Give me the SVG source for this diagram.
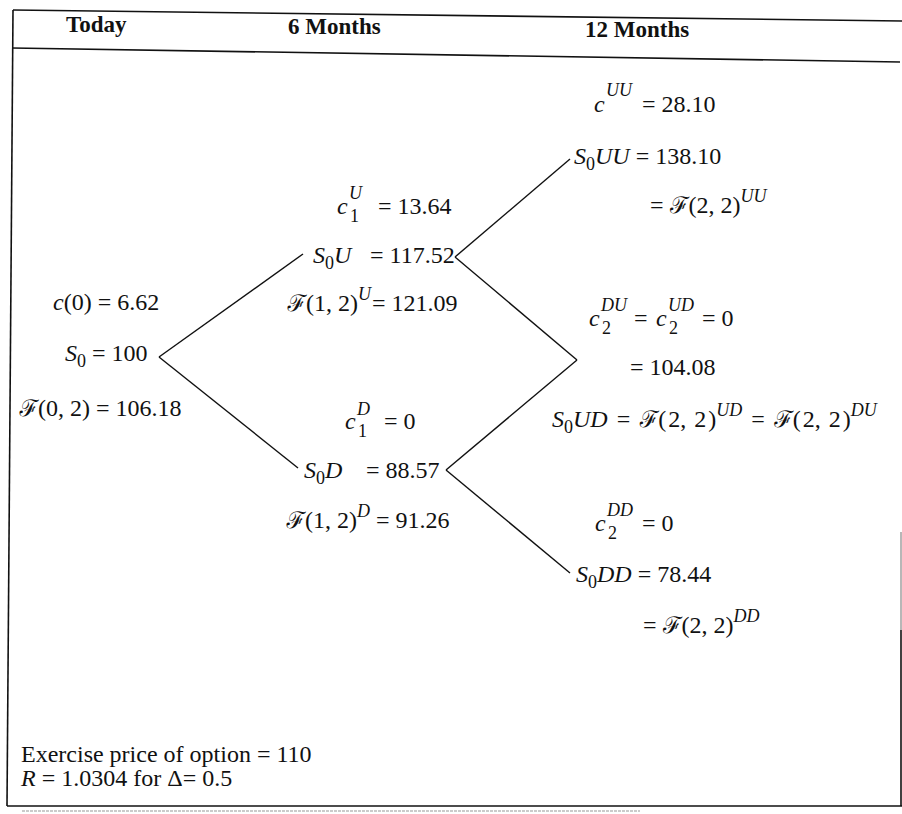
<svg xmlns="http://www.w3.org/2000/svg" width="902" height="814" viewBox="0 0 902 814">
<style>
.t{font-family:"Liberation Serif","DejaVu Serif",serif;font-size:24px;fill:#111}
.i{font-style:italic}
.s{font-size:18px}
.h{font-family:"Liberation Serif","DejaVu Serif",serif;font-size:23px;font-weight:bold;fill:#111}
.f{font-family:"DejaVu Serif","Noto Sans",serif;font-style:italic;font-size:23px}
.ln{stroke:#111;stroke-width:1.4;fill:none}
.fr{stroke:#111;stroke-width:1.6;fill:none}
</style>
<rect width="902" height="814" fill="#fff"/>
<g id="frame">
<line class="fr" x1="13" y1="10" x2="902" y2="21"/>
<line class="fr" x1="12" y1="48" x2="900" y2="62"/>
<line class="fr" x1="13" y1="10" x2="7" y2="806"/>
<line class="fr" x1="7" y1="806" x2="902" y2="806"/>
<line x1="901" y1="532" x2="901" y2="630" stroke="#999" stroke-width="1.4"/>
<line class="fr" x1="901" y1="630" x2="901" y2="806"/>
<line x1="22" y1="811" x2="640" y2="811" stroke="#bbb" stroke-width="1.5" stroke-dasharray="3 1"/>
</g>
<g id="header">
<text class="h" x="66" y="32">Today</text>
<text class="h" x="288" y="34">6 Months</text>
<text class="h" x="585" y="37">12 Months</text>
</g>
<g id="connectors">
<line class="ln" x1="159" y1="357" x2="303" y2="254"/>
<line class="ln" x1="159" y1="357" x2="298" y2="468"/>
<line class="ln" x1="455" y1="257" x2="570" y2="159"/>
<line class="ln" x1="455" y1="257" x2="577" y2="360"/>
<line class="ln" x1="577" y1="360" x2="446" y2="470"/>
<line class="ln" x1="446" y1="470" x2="570" y2="573"/>
</g>
<g id="node-today">
<text class="t" x="53" y="310"><tspan class="i">c</tspan>(0) = 6.62</text>
<text class="t" x="65" y="361"><tspan class="i">S</tspan><tspan class="s" dy="6">0</tspan><tspan dy="-6"> = 100</tspan></text>
<text class="t" x="19" y="416"><tspan class="f">ℱ</tspan>(0, 2) = 106.18</text>
</g>
<g id="node-6m-up">
<text class="t i" x="337" y="214">c</text>
<text class="t i s" x="349" y="199">U</text>
<text class="t s" x="350" y="222">1</text>
<text class="t" x="378" y="214">= 13.64</text>
<text class="t" x="313" y="263"><tspan class="i">S</tspan><tspan class="s" dy="6">0</tspan><tspan class="i" dy="-6">U</tspan></text>
<text class="t" x="370" y="263">= 117.52</text>
<text class="t" x="287" y="311"><tspan class="f">ℱ</tspan>(1, 2)<tspan class="i s" dy="-11">U</tspan><tspan dy="11" dx="1">= 121.09</tspan></text>
</g>
<g id="node-6m-down">
<text class="t i" x="345" y="429">c</text>
<text class="t i s" x="357" y="415">D</text>
<text class="t s" x="358" y="437">1</text>
<text class="t" x="384" y="429">= 0</text>
<text class="t" x="304" y="478"><tspan class="i">S</tspan><tspan class="s" dy="6">0</tspan><tspan class="i" dy="-6">D</tspan></text>
<text class="t" x="366" y="478">= 88.57</text>
<text class="t" x="286" y="528"><tspan class="f">ℱ</tspan>(1, 2)<tspan class="i s" dy="-11">D</tspan><tspan dy="11"> = 91.26</tspan></text>
</g>
<g id="node-12m-uu">
<text class="t i" x="594" y="112">c</text>
<text class="t i s" x="606" y="96">UU</text>
<text class="t" x="642" y="112">= 28.10</text>
<text class="t" x="574" y="164"><tspan class="i">S</tspan><tspan class="s" dy="6">0</tspan><tspan class="i" dy="-6">UU</tspan> = 138.10</text>
<text class="t" x="650" y="213">= <tspan class="f">ℱ</tspan>(2, 2)<tspan class="i s" dy="-11">UU</tspan></text>
</g>
<g id="node-12m-ud">
<text class="t i" x="589" y="326">c</text>
<text class="t i s" x="601" y="311">DU</text>
<text class="t s" x="602" y="334">2</text>
<text class="t" x="634" y="326">=</text>
<text class="t i" x="656" y="326">c</text>
<text class="t i s" x="668" y="311">UD</text>
<text class="t s" x="669" y="334">2</text>
<text class="t" x="702" y="326">= 0</text>
<text class="t" x="630" y="375">= 104.08</text>
<text class="t" x="552" y="427"><tspan class="i">S</tspan><tspan class="s" dy="6">0</tspan><tspan class="i" dy="-6">UD</tspan><tspan dx="3"> = </tspan><tspan class="f" dx="3">ℱ</tspan>(<tspan dx="2">2,</tspan><tspan dx="2"> 2</tspan><tspan dx="2">)</tspan><tspan class="i s" dy="-11">UD</tspan><tspan dy="11" dx="3"> = </tspan><tspan class="f" dx="3">ℱ</tspan>(<tspan dx="2">2,</tspan><tspan dx="2"> 2</tspan><tspan dx="2">)</tspan><tspan class="i s" dy="-11">DU</tspan></text>
</g>
<g id="node-12m-dd">
<text class="t i" x="595" y="531">c</text>
<text class="t i s" x="607" y="516">DD</text>
<text class="t s" x="608" y="539">2</text>
<text class="t" x="642" y="531">= 0</text>
<text class="t" x="576" y="582"><tspan class="i">S</tspan><tspan class="s" dy="6">0</tspan><tspan class="i" dy="-6">DD</tspan> = 78.44</text>
<text class="t" x="643" y="633">= <tspan class="f">ℱ</tspan>(2, 2)<tspan class="i s" dy="-11">DD</tspan></text>
</g>
<g id="note">
<text class="t" x="21" y="762">Exercise price of option = 110</text>
<text class="t" x="21" y="786"><tspan class="i">R</tspan> = 1.0304 for Δ= 0.5</text>
</g>
</svg>
